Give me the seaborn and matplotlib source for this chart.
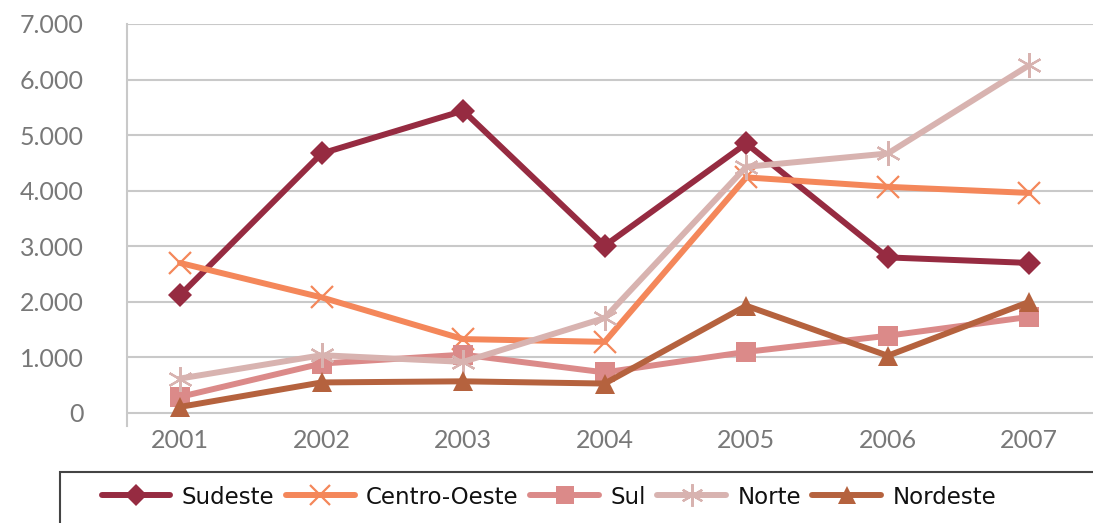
import matplotlib
matplotlib.use("Agg")
import matplotlib.pyplot as plt
import seaborn as sns
import pandas as pd
from matplotlib.patches import Rectangle
from matplotlib.lines import Line2D
from matplotlib.ticker import FuncFormatter

years = [2001, 2002, 2003, 2004, 2005, 2006, 2007]
sudeste = [2120, 4670, 5440, 3010, 4850, 2800, 2700]
centro_oeste = [2700, 2080, 1330, 1280, 4240, 4070, 3960]
sul = [290, 890, 1050, 730, 1100, 1390, 1730]
norte = [620, 1040, 920, 1710, 4430, 4670, 6260]
nordeste = [110, 550, 570, 530, 1930, 1030, 2000]

series = {
    "Sudeste": sudeste,
    "Centro-Oeste": centro_oeste,
    "Sul": sul,
    "Norte": norte,
    "Nordeste": nordeste,
}
colors = {
    "Sudeste": "#962B41",
    "Centro-Oeste": "#F4875A",
    "Sul": "#DB8A89",
    "Norte": "#D8B3B0",
    "Nordeste": "#B5623E",
}
markers = {
    "Sudeste": "D",
    "Centro-Oeste": "x",
    "Sul": "s",
    "Norte": (6, 2, 0),
    "Nordeste": "^",
}
msizes = {"Sudeste": 12, "Centro-Oeste": 16, "Sul": 14, "Norte": 18, "Nordeste": 14}
line_marker = ("Centro-Oeste", "Norte")

rows = []
for name, vals in series.items():
    for i, (yr, v) in enumerate(zip(years, vals)):
        rows.append({"pos": i, "year": yr, "region": name, "value": v})
df = pd.DataFrame(rows)

sns.set_style("white")
grid_c = "#c9c9c9"
tick_c = "#787878"

fig = plt.figure(figsize=(10.93, 5.23), dpi=100)
ax = fig.add_axes([127 / 1093, 1 - 426 / 523, 966 / 1093, (426 - 24) / 523])

for name in series:
    sub = df[df["region"] == name]
    sns.lineplot(
        data=sub, x="pos", y="value", ax=ax, color=colors[name],
        linewidth=4.3, marker=markers[name], markersize=msizes[name],
        markeredgewidth=1.6 if name in line_marker else 0,
        markeredgecolor=colors[name], label=name, legend=False,
        solid_joinstyle="miter",
    )

ax.set_xlim(-0.375, 6.45)
ax.set_ylim(-234, 7000)
ax.set_yticks(range(0, 7001, 1000))
ax.yaxis.set_major_formatter(FuncFormatter(lambda v, p: f"{int(v):,}".replace(",", ".")))
ax.set_xticks(range(len(years)))
ax.set_xticklabels([str(y) for y in years])
ax.set_xlabel("")
ax.set_ylabel("")

ax.grid(axis="y", color=grid_c, linewidth=1.5)
ax.grid(axis="x", visible=False)
ax.set_axisbelow(True)
for s in ("top", "right", "bottom"):
    ax.spines[s].set_visible(False)
ax.spines["left"].set_color(grid_c)
ax.spines["left"].set_linewidth(1.5)

ax.tick_params(axis="y", length=13, width=1.5, color=grid_c, pad=18,
               labelsize=18, labelcolor=tick_c)
ax.tick_params(axis="x", length=0, pad=2, labelsize=18, labelcolor=tick_c)
for lab in ax.get_xticklabels() + ax.get_yticklabels():
    lab.set_family(["Lato", "DejaVu Sans"])

# legend box
fig.patches.append(Rectangle((60 / 1093, -0.1), 1.1, 0.1 + (1 - 472 / 523),
                             transform=fig.transFigure, fill=False,
                             edgecolor="#444444", linewidth=1.5, clip_on=False))
handles = [Line2D([0], [0], color=colors[n], linewidth=4.3, marker=markers[n],
                  markersize=msizes[n] * 0.9,
                  markeredgewidth=1.6 if n in line_marker else 0,
                  markeredgecolor=colors[n]) for n in series]
leg = fig.legend(handles, list(series.keys()), loc="center",
                 bbox_to_anchor=(549 / 1093, 1 - 497 / 523), ncol=5,
                 frameon=False, handlelength=3.0, handletextpad=0.5,
                 columnspacing=0.5,
                 prop={"family": ["DejaVu Sans"], "size": 16.5})
for t in leg.get_texts():
    t.set_color("#111111")

fig.savefig("out.png", dpi=100)
